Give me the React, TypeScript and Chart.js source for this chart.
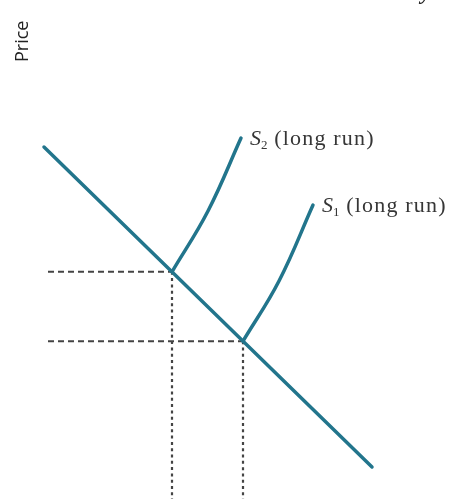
import { useEffect, useRef } from "react";
import { Chart, registerables } from "chart.js";

Chart.register(...registerables);

// Long-run demand line (quantity, price)
const demandQty = [-0.1, 8.1];
const demandPrice = [8.8, 0.8];

// Long-run supply curves
const s2Qty = [3.1, 4.0, 4.825];
const s2Price = [5.68, 7.2, 9.025];
const s1Qty = [4.875, 5.775, 6.625];
const s1Price = [3.946, 5.45, 7.35];

// Equilibria where each supply curve meets demand
const eqQty = [3.1, 4.875];
const eqPrice = [5.68, 3.946];

const supplySubscripts = ["2", "1"];
const supplySuffix = " (long run)";
const yAxisLabel = "Price";
const cutTitleTail = "y";

const LINE = "#22758c";
const GUIDE = "#444444";

const pts = (xs: number[], ys: number[]) => xs.map((x, i) => ({ x, y: ys[i] }));

const labelPlugin = {
  id: "curveLabels",
  afterDatasetsDraw(chart: any) {
    const ctx = chart.ctx as CanvasRenderingContext2D;
    ctx.save();
    ctx.fillStyle = "#363636";
    ctx.textBaseline = "alphabetic";
    ctx.textAlign = "left";
    [1, 2].forEach((dsIndex, k) => {
      const meta = chart.getDatasetMeta(dsIndex);
      const last = meta.data[meta.data.length - 1];
      let x = last.x + 9;
      const y = last.y + 7;
      (ctx as any).letterSpacing = "0px";
      ctx.font = "italic 22px 'Liberation Serif'";
      ctx.fillText("S", x, y);
      x += ctx.measureText("S").width;
      ctx.font = "13px 'Liberation Serif'";
      ctx.fillText(supplySubscripts[k], x, y + 4);
      x += ctx.measureText(supplySubscripts[k]).width;
      (ctx as any).letterSpacing = "1.2px";
      ctx.font = "22px 'Liberation Serif'";
      ctx.fillText(supplySuffix, x, y);
    });
    (ctx as any).letterSpacing = "0px";

    // vertical axis caption
    ctx.save();
    ctx.translate(28, 62);
    ctx.rotate(-Math.PI / 2);
    ctx.font = "18px 'Open Sans'";
    ctx.fillStyle = "#222";
    ctx.fillText(yAxisLabel, 0, 0);
    ctx.restore();

    // tail of a heading that runs off the top edge
    ctx.font = "italic bold 22px 'Liberation Serif'";
    ctx.fillStyle = "#222";
    ctx.fillText(cutTitleTail, 421, -1);
    ctx.restore();
  },
};

export default function App() {
  const ref = useRef<HTMLCanvasElement | null>(null);

  useEffect(() => {
    if (!ref.current) return;
    const curve = {
      showLine: true,
      borderColor: LINE,
      borderWidth: 3.5,
      pointRadius: 0,
      borderCapStyle: "round" as const,
    };
    const chart = new Chart(ref.current, {
      type: "scatter",
      data: {
        datasets: [
          { ...curve, data: pts(demandQty, demandPrice) },
          { ...curve, data: pts(s2Qty, s2Price), tension: 0.4 },
          { ...curve, data: pts(s1Qty, s1Price), tension: 0.4 },
          // horizontal price guides
          ...eqQty.map((q, i) => ({
            data: [
              { x: 0, y: eqPrice[i] },
              { x: q, y: eqPrice[i] },
            ],
            showLine: true,
            borderColor: GUIDE,
            borderWidth: 2,
            borderDash: [6, 4],
            pointRadius: 0,
          })),
          // vertical quantity guides
          ...eqQty.map((q, i) => ({
            data: [
              { x: q, y: eqPrice[i] },
              { x: q, y: -1 },
            ],
            showLine: true,
            borderColor: GUIDE,
            borderWidth: 2.2,
            borderDash: [3, 3.3],
            pointRadius: 0,
          })),
        ],
      },
      options: {
        animation: false,
        responsive: false,
        layout: { padding: 0 },
        plugins: { legend: { display: false }, tooltip: { enabled: false } },
        scales: {
          x: { type: "linear", display: false, min: -1.2, max: 10.075 },
          y: { type: "linear", display: false, min: 0, max: 12.475 },
        },
      },
      plugins: [labelPlugin],
    });
    return () => chart.destroy();
  }, []);

  return (
    <canvas
      ref={ref}
      width={451}
      height={499}
      style={{ position: "fixed", left: 0, top: 0, display: "block", background: "#fff" }}
    />
  );
}
